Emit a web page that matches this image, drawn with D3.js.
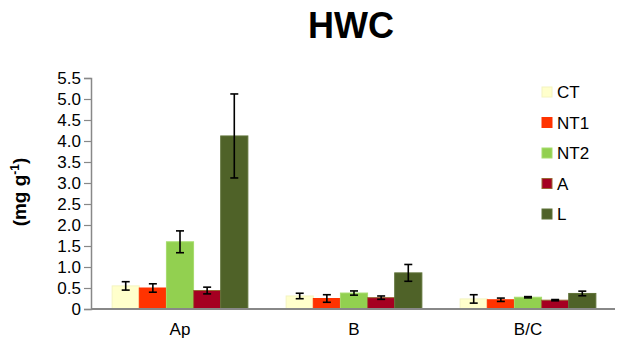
<!DOCTYPE html>
<html>
<head>
<meta charset="utf-8">
<script src="https://cdn.jsdelivr.net/npm/d3@7"></script>
<style>
  body { margin: 0; background: #fff; }
  text { font-family: "Liberation Sans", Arial, sans-serif; }
</style>
</head>
<body>
<svg id="chart"></svg>
<script>
// horizons on the x axis, treatments as series
const horizons = ["Ap", "B", "B/C"];
const treatments = ["CT", "NT1", "NT2", "A", "L"];
const colours = ["#ffffcc", "#ff3300", "#92d050", "#a50021", "#4f6228"];
const strokes = ["#f4f4c0", "#ff3300", "#a6dc6c", "#996633", "#5f7238"];

// means per treatment, one value per horizon
const meanCT  = [0.55, 0.31, 0.24];
const meanNT1 = [0.50, 0.25, 0.22];
const meanNT2 = [1.60, 0.38, 0.28];
const meanA   = [0.44, 0.27, 0.21];
const meanL   = [4.12, 0.86, 0.37];

// error (±) per treatment
const errCT  = [0.10, 0.065, 0.10];
const errNT1 = [0.10, 0.09, 0.04];
const errNT2 = [0.26, 0.05, 0.015];
const errA   = [0.08, 0.04, 0.015];
const errL   = [1.00, 0.20, 0.055];

const yTicks = [0, 0.5, 1.0, 1.5, 2.0, 2.5, 3.0, 3.5, 4.0, 4.5, 5.0, 5.5];

const means = [meanCT, meanNT1, meanNT2, meanA, meanL];
const errs = [errCT, errNT1, errNT2, errA, errL];

const width = 617, height = 345;
const svg = d3.select("#chart").attr("width", width).attr("height", height);

const x0 = d3.scaleBand().domain(horizons).range([93, 615]).paddingInner(0.22).paddingOuter(0.11);
const x1 = d3.scaleBand().domain(treatments).range([0, x0.bandwidth()]);
const y = d3.scaleLinear().domain([0, 5.5]).range([309, 78]);

// title
svg.append("text")
    .attr("x", 351).attr("y", 38)
    .attr("text-anchor", "middle")
    .style("font-size", "36px").style("font-weight", "bold")
    .text("HWC");

// y label
const yl = svg.append("text")
    .attr("transform", "translate(26,192) rotate(-90)")
    .attr("text-anchor", "middle")
    .style("font-size", "19px").style("font-weight", "bold");
yl.append("tspan").text("(mg g");
yl.append("tspan").attr("dy", -7).style("font-size", "12px").text("-1");
yl.append("tspan").attr("dy", 7).text(")");

// y axis
const yAxis = svg.append("g")
    .attr("transform", "translate(91,0)")
    .call(d3.axisLeft(y).tickValues(yTicks).tickSize(7).tickPadding(3)
        .tickFormat(d => d === 0 ? "0" : d3.format(".1f")(d)));
yAxis.select(".domain").attr("stroke", "#888").attr("stroke-width", 1.5);
yAxis.selectAll(".tick line").attr("stroke", "#888").attr("stroke-width", 1.2);
yAxis.selectAll(".tick text").style("font-size", "17px").attr("fill", "#000")
    .style("font-family", "'Liberation Sans', Arial, sans-serif");

// bars
const rows = [];
treatments.forEach((t, ti) => {
    horizons.forEach((h, hi) => {
        rows.push({ t, ti, h, v: means[ti][hi], e: errs[ti][hi] });
    });
});

svg.append("g").selectAll("rect")
    .data(rows)
    .join("rect")
    .attr("x", d => x0(d.h) + x1(d.t))
    .attr("width", x1.bandwidth())
    .attr("y", d => y(d.v))
    .attr("height", d => y(0) - y(d.v))
    .attr("fill", d => colours[d.ti])
    .attr("stroke", d => strokes[d.ti])
    .attr("stroke-width", 1);

// error bars
const eb = svg.append("g").selectAll("g")
    .data(rows)
    .join("g")
    .attr("stroke", "#000").attr("stroke-width", 1.6);
const cx = d => x0(d.h) + x1(d.t) + x1.bandwidth() / 2;
eb.append("line")
    .attr("x1", cx).attr("x2", cx)
    .attr("y1", d => y(d.v + d.e)).attr("y2", d => y(d.v - d.e));
eb.append("line")
    .attr("x1", d => cx(d) - 4).attr("x2", d => cx(d) + 4)
    .attr("y1", d => y(d.v + d.e)).attr("y2", d => y(d.v + d.e));
eb.append("line")
    .attr("x1", d => cx(d) - 4).attr("x2", d => cx(d) + 4)
    .attr("y1", d => y(d.v - d.e)).attr("y2", d => y(d.v - d.e));

// x axis
const xAxis = svg.append("g")
    .attr("transform", "translate(0,309)")
    .call(d3.axisBottom(x0).tickSize(0).tickPadding(14));
xAxis.select(".domain").attr("stroke", "#888").attr("stroke-width", 2)
    .attr("d", "M91,0H615");
xAxis.selectAll(".tick text").style("font-size", "17px").attr("fill", "#000")
    .style("font-family", "'Liberation Sans', Arial, sans-serif");

// legend
const lg = svg.append("g").selectAll("g")
    .data(treatments)
    .join("g")
    .attr("transform", (d, i) => `translate(542,${87 + i * 30.5})`);
lg.append("rect")
    .attr("width", 10).attr("height", 10)
    .attr("fill", (d, i) => colours[i])
    .attr("stroke", (d, i) => strokes[i]);
lg.append("text")
    .attr("x", 15).attr("y", 11)
    .style("font-size", "17px")
    .text(d => d);
</script>
</body>
</html>
